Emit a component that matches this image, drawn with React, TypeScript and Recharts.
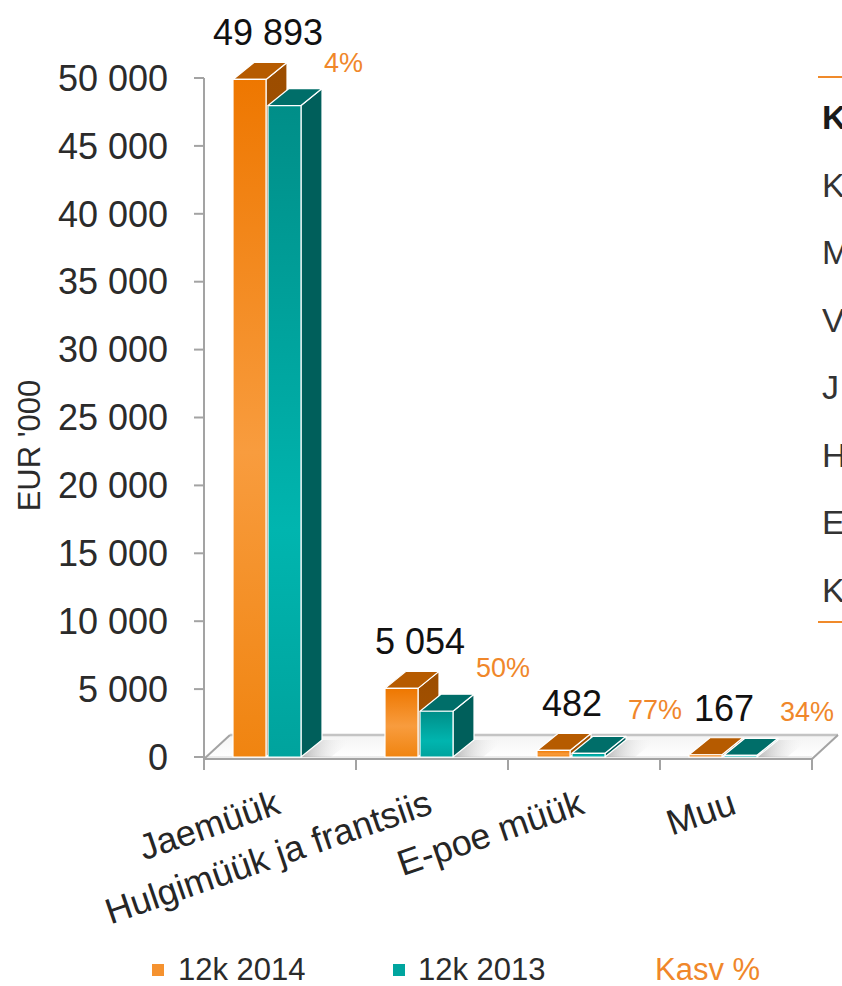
import React from "react";
import {
  BarChart,
  Bar,
  XAxis,
  YAxis,
  Legend,
  LabelList,
  ReferenceArea,
} from "recharts";

// andmed
const categories = ["Jaemüük", "Hulgimüük ja frantsiis", "E-poe müük", "Muu"];
const sales2014 = [49893, 5054, 482, 167];
const sales2013 = [47970, 3370, 272, 125];
const growthPct = [4, 50, 77, 34];
const yTicks = [0, 5000, 10000, 15000, 20000, 25000, 30000, 35000, 40000, 45000, 50000];
const seriesNames = ["12k 2014", "12k 2013", "Kasv %"];
const sideRows = ["K", "K", "M", "V", "J", "H", "E", "K"];

const chartData = categories.map((name, i) => ({
  name,
  y2014: sales2014[i],
  y2013: sales2013[i],
  growth: growthPct[i],
}));

const FONT = '"Liberation Sans", Arial, sans-serif';
const ORANGE_TXT = "#F0872A";
const AXIS = "#a3a3a3";

// 3D sügavus
const DX = 21;
const DY = 17;
const SHIFT = 13;
const FDX = 26;
const FDY = 22;

const fmt = (v: number) => String(v).replace(/\B(?=(\d{3})+(?!\d))/g, " ");

const orangeFaces = { front: "url(#gOrange)", top: "#B65B00", side: "url(#gOrangeSide)" };
const tealFaces = { front: "url(#gTeal)", top: "#006E69", side: "#005F5B" };

const makeBox = (faces: { front: string; top: string; side: string }, shadow: boolean) =>
  (props: any) => {
    const { x, y, width, height } = props;
    if (x == null || width == null) return <g />;
    const h = Math.max(height || 0, 0);
    const fx = x - SHIFT;
    const top = `M${fx},${y} L${fx + DX},${y - DY} L${fx + width + DX},${y - DY} L${fx + width},${y} Z`;
    const side = `M${fx + width},${y} L${fx + width + DX},${y - DY} L${fx + width + DX},${y + h - DY} L${fx + width},${y + h} Z`;
    const b = y + h;
    const sh = `M${fx + width},${b} L${fx + width + DX},${b - DY} L${fx + width + DX + 30},${b - DY} L${fx + width + 30},${b} Z`;
    return (
      <g>
        {shadow && <path d={sh} fill="url(#gShadow)" />}
        <g stroke="#ffffff" strokeWidth={1.2} strokeLinejoin="round">
          <path d={side} fill={faces.side} />
          <path d={top} fill={faces.top} />
          <rect x={fx} y={y} width={width} height={h} fill={faces.front} />
        </g>
      </g>
    );
  };

const OrangeBox = makeBox(orangeFaces, false);
const TealBox = makeBox(tealFaces, true);

const Floor = (p: any) => {
  const { x, y, width, height } = p;
  if (x == null) return <g />;
  const L = x;
  const R = x + width;
  const B = y + height;
  const step = width / categories.length;
  return (
    <g>
      <path
        d={`M${L},${B} L${R},${B} L${R + FDX},${B - FDY} L${L + FDX},${B - FDY} Z`}
        fill="url(#gFloor)"
      />
      <line x1={L + FDX} y1={B - FDY} x2={R + FDX} y2={B - FDY} stroke="#c4c4c4" strokeWidth={2.5} />
      <line x1={L} y1={B} x2={R} y2={B} stroke="#dadada" strokeWidth={1} />
      <line x1={L} y1={B + 2} x2={L + FDX} y2={B - FDY} stroke={AXIS} strokeWidth={2} />
      <line x1={R} y1={B + 2} x2={R + FDX} y2={B - FDY} stroke={AXIS} strokeWidth={2} />
      <line x1={L} y1={B + 2} x2={R} y2={B + 2} stroke={AXIS} strokeWidth={2} />
      <line x1={L} y1={B} x2={L} y2={B + 13} stroke={AXIS} strokeWidth={2} />
      {categories.map((c, i) => (
        <line
          key={c}
          x1={L + step * (i + 1)}
          y1={B + 2}
          x2={L + step * (i + 1)}
          y2={B + 13}
          stroke={AXIS}
          strokeWidth={2}
        />
      ))}
    </g>
  );
};

const XTick = (props: any) => {
  const { x, y, payload } = props;
  const tx = x + 2;
  const ty = y + 56;
  return (
    <text
      x={tx}
      y={ty}
      textAnchor="end"
      fontSize={36}
      fontFamily={FONT}
      fill="#262626"
      transform={`rotate(-19, ${tx}, ${ty})`}
    >
      {payload.value}
    </text>
  );
};

const ValueLabel = (props: any) => {
  const vb = props.viewBox || props;
  const x = props.x ?? vb.x;
  const y = props.y ?? vb.y;
  return (
    <text x={x + 22} y={y - DY - 17} textAnchor="middle" fontSize={36} fontFamily={FONT} fill="#111">
      {fmt(Number(props.value))}
    </text>
  );
};

const GrowthLabel = (props: any) => {
  const vb = props.viewBox || props;
  const x = props.x ?? vb.x;
  const y = props.y ?? vb.y;
  return (
    <text x={x + 43} y={y - 34} textAnchor="start" fontSize={27} fontFamily={FONT} fill={ORANGE_TXT}>
      {props.value}%
    </text>
  );
};

const LegendBox = () => (
  <div style={{ position: "relative", width: 842, height: 28, fontFamily: FONT, fontSize: 31, lineHeight: "28px" }}>
    <div style={{ position: "absolute", left: 152, top: 8, width: 12, height: 12, background: "#F5922F" }} />
    <div style={{ position: "absolute", left: 178, top: 0, color: "#2b2b2b" }}>{seriesNames[0]}</div>
    <div style={{ position: "absolute", left: 393, top: 8, width: 12, height: 12, background: "#00A59F" }} />
    <div style={{ position: "absolute", left: 418, top: 0, color: "#2b2b2b" }}>{seriesNames[1]}</div>
    <div style={{ position: "absolute", left: 655, top: 0, color: ORANGE_TXT }}>{seriesNames[2]}</div>
  </div>
);

const SidePanel = () => (
  <div style={{ position: "absolute", left: 818, top: 0, width: 40, height: 986 }}>
    <div style={{ position: "absolute", left: 0, top: 76, width: 40, height: 2, background: "#F08A2A" }} />
    <div style={{ position: "absolute", left: 4, top: 84, fontFamily: FONT, fontSize: 34, lineHeight: "67.5px", color: "#333" }}>
      {sideRows.map((r, i) => (
        <div key={i} style={{ fontWeight: i === 0 ? 700 : 400, color: i === 0 ? "#1a1a1a" : "#333" }}>
          {r}
        </div>
      ))}
    </div>
    <div style={{ position: "absolute", left: 0, top: 621, width: 40, height: 2, background: "#F08A2A" }} />
  </div>
);

export default function App() {
  return (
    <div
      style={{
        position: "absolute",
        left: 0,
        top: 0,
        width: 842,
        height: 986,
        overflow: "hidden",
        background: "#fff",
        fontFamily: FONT,
      }}
    >
      <BarChart
        width={842}
        height={986}
        data={chartData}
        margin={{ top: 78, right: 30, bottom: 0, left: 0 }}
        barGap={2}
      >
        <defs>
          <linearGradient id="gOrange" x1="0" y1="0" x2="0" y2="1">
            <stop offset="0%" stopColor="#EE7700" />
            <stop offset="55%" stopColor="#F89C3E" />
            <stop offset="100%" stopColor="#F08410" />
          </linearGradient>
          <linearGradient id="gOrangeSide" x1="0" y1="0" x2="0" y2="1">
            <stop offset="0%" stopColor="#9C4D00" />
            <stop offset="100%" stopColor="#A85400" />
          </linearGradient>
          <linearGradient id="gTeal" x1="0" y1="0" x2="0" y2="1">
            <stop offset="0%" stopColor="#008E88" />
            <stop offset="65%" stopColor="#00B5AF" />
            <stop offset="100%" stopColor="#00A39D" />
          </linearGradient>
          <linearGradient id="gFloor" x1="0" y1="0" x2="0" y2="1">
            <stop offset="0%" stopColor="#f4f4f4" />
            <stop offset="100%" stopColor="#ffffff" />
          </linearGradient>
          <linearGradient id="gShadow" x1="0" y1="0" x2="1" y2="0">
            <stop offset="0%" stopColor="#9a9a9a" stopOpacity={0.7} />
            <stop offset="100%" stopColor="#ffffff" stopOpacity={0} />
          </linearGradient>
        </defs>
        <ReferenceArea y1={0} y2={50000} shape={Floor} ifOverflow="visible" />
        <XAxis
          dataKey="name"
          height={229}
          axisLine={false}
          tickLine={false}
          tickSize={0}
          tickMargin={0}
          interval={0}
          tick={XTick}
        />
        <YAxis
          width={204}
          domain={[0, 50000]}
          ticks={yTicks}
          interval={0}
          tickSize={10}
          tickMargin={26}
          tickFormatter={fmt}
          axisLine={{ stroke: AXIS, strokeWidth: 2 }}
          tickLine={{ stroke: AXIS, strokeWidth: 2 }}
          tick={{ fill: "#2b2b2b", fontSize: 36, fontFamily: FONT }}
          label={{
            value: "EUR '000",
            content: (p: any) => {
              const vb = p.viewBox || { x: 0, y: 78, width: 204, height: 679 };
              const cx = vb.x + 29;
              const cy = vb.y + vb.height / 2 + 28;
              return (
                <text
                  x={cx}
                  y={cy}
                  textAnchor="middle"
                  dominantBaseline="central"
                  fontSize={31}
                  fontFamily={FONT}
                  fill="#2b2b2b"
                  transform={`rotate(-90, ${cx}, ${cy})`}
                >
                  EUR '000
                </text>
              );
            },
          }}
        />
        <Legend
          layout="horizontal"
          verticalAlign="middle"
          wrapperStyle={{ left: 0, top: 956, width: 842, height: 28 }}
          content={() => <LegendBox />}
        />
        <Bar dataKey="y2014" name={seriesNames[0]} barSize={33} shape={OrangeBox} isAnimationActive={false}>
          <LabelList dataKey="y2014" content={ValueLabel} />
        </Bar>
        <Bar dataKey="y2013" name={seriesNames[1]} barSize={33} shape={TealBox} isAnimationActive={false}>
          <LabelList dataKey="growth" content={GrowthLabel} />
        </Bar>
      </BarChart>
      <SidePanel />
    </div>
  );
}
